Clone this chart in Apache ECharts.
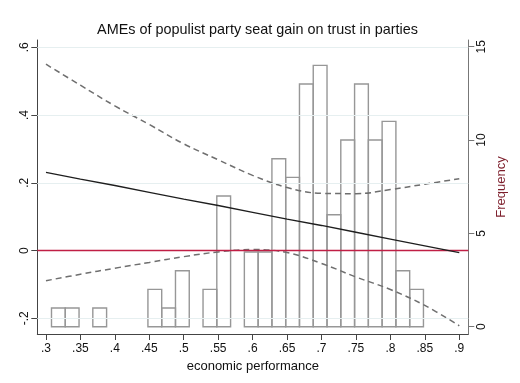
<!DOCTYPE html>
<html><head><meta charset="utf-8">
<script src="https://cdn.jsdelivr.net/npm/echarts@6/dist/echarts.min.js"></script>
<style>html,body{margin:0;padding:0;background:#fff}#c{width:520px;height:383px}</style>
</head><body><div id="c"></div>
<script>
// ---- data ----
const xPoints = [0.30, 0.35, 0.40, 0.45, 0.50, 0.55, 0.60, 0.65, 0.70, 0.75, 0.80, 0.85, 0.90];
const ame     = [0.231, 0.211, 0.192, 0.172, 0.152, 0.133, 0.113, 0.093, 0.074, 0.054, 0.034, 0.014, -0.006];
const ciUpper = [0.550, 0.488, 0.427, 0.372, 0.315, 0.268, 0.222, 0.186, 0.169, 0.168, 0.180, 0.196, 0.212];
const ciLower = [-0.089, -0.070, -0.052, -0.035, -0.018, -0.004, 0.003, -0.006, -0.038, -0.078, -0.115, -0.162, -0.222];
const binLow  = [0.308, 0.328, 0.368, 0.448, 0.468, 0.488, 0.528, 0.548, 0.588, 0.608, 0.628, 0.648, 0.668, 0.688, 0.708, 0.728, 0.748, 0.768, 0.788, 0.808, 0.828];
const binFreq = [1, 1, 1, 2, 1, 3, 2, 7, 4, 4, 9, 8, 13, 14, 6, 10, 13, 10, 11, 3, 2];
const binWidth = 0.02;
const xTicks = [0.3, 0.35, 0.4, 0.45, 0.5, 0.55, 0.6, 0.65, 0.7, 0.75, 0.8, 0.85, 0.9];
const yTicks = [-0.2, 0, 0.2, 0.4, 0.6];
const freqTicks = [0, 5, 10, 15];
const titleText = 'AMEs of populist party seat gain on trust in parties';
const xName = 'economic performance';
const freqName = 'Frequency';

const fmt = v => { let s = String(+(+v).toFixed(2)); return s.replace(/^(-?)0\./, '$1.'); };
const pair = (xs, ys) => xs.map((x, i) => [x, ys[i]]);
const FONT = 'Liberation Sans, Arial, sans-serif';

const chart = echarts.init(document.getElementById('c'), null, {renderer: 'canvas'});
chart.setOption({
  animation: false,
  backgroundColor: '#fff',
  title: {text: titleText, left: 252.5, textAlign: 'center', top: 18,
    textStyle: {fontFamily: FONT, fontSize: 14.4, fontWeight: 'normal', color: '#111'}},
  grid: {left: 37.3, right: 51.7, top: 40, bottom: 49, containLabel: false},
  xAxis: {type: 'value', min: 0.2874, max: 0.9131,
    name: xName, nameLocation: 'middle', nameGap: 22,
    nameTextStyle: {fontFamily: FONT, fontSize: 13, color: '#111'},
    axisLine: {show: true, onZero: false, lineStyle: {color: '#444', width: 1}},
    axisTick: {show: true, length: 6, customValues: xTicks, lineStyle: {color: '#444'}},
    axisLabel: {customValues: xTicks, formatter: fmt, margin: 9,
      fontFamily: FONT, fontSize: 12, color: '#111'},
    splitLine: {show: false}},
  yAxis: [
    {type: 'value', min: -0.2463, max: 0.6215, position: 'left',
      axisLine: {show: true, onZero: false, lineStyle: {color: '#444', width: 1}},
      axisTick: {show: true, length: 6, customValues: yTicks, lineStyle: {color: '#444'}},
      axisLabel: {customValues: yTicks, formatter: fmt, rotate: 90, margin: 7,
        fontFamily: FONT, fontSize: 12, color: '#111'},
      splitLine: {show: false}},
    {type: 'value', min: -0.391, max: 15.359, position: 'right',
      name: freqName, nameLocation: 'middle', nameRotate: 90, nameGap: 17,
      nameTextStyle: {fontFamily: FONT, fontSize: 13, color: '#7d1f2c'},
      axisLine: {show: true, onZero: false, lineStyle: {color: '#777', width: 1}},
      axisTick: {show: true, length: 6, customValues: freqTicks, lineStyle: {color: '#777'}},
      axisLabel: {customValues: freqTicks, rotate: 90, margin: 7,
        fontFamily: FONT, fontSize: 12, color: '#111'},
      splitLine: {show: false}}
  ],
  series: [
    {type: 'line', data: [], silent: true, yAxisIndex: 0,
      markLine: {silent: true, symbol: 'none', label: {show: false},
        lineStyle: {color: '#e6eff0', width: 1, type: 'solid'},
        data: yTicks.filter(v => v !== 0).map(v => ({yAxis: v}))}},
    {type: 'custom', xAxisIndex: 0, yAxisIndex: 1, silent: true,
      data: binLow.map((b, i) => [b, b + binWidth, binFreq[i]]),
      renderItem: (params, api) => {
        const p0 = api.coord([api.value(0), api.value(2)]);
        const p1 = api.coord([api.value(1), 0]);
        return {type: 'rect', shape: {x: p0[0], y: p0[1], width: p1[0] - p0[0], height: p1[1] - p0[1]},
          style: {fill: 'rgba(255,255,255,0)', stroke: '#979797', lineWidth: 1.4}};
      }, z: 2},
    {type: 'line', yAxisIndex: 0, data: [], silent: true, z: 3,
      markLine: {silent: true, symbol: 'none', label: {show: false},
        lineStyle: {color: '#c01f45', width: 1.3, type: 'solid'},
        data: [{yAxis: 0}]}},
    {type: 'line', yAxisIndex: 0, data: pair(xPoints, ciUpper), smooth: 0.4, showSymbol: false, z: 4,
      lineStyle: {color: '#6f6f6f', width: 1.5, type: [6, 4]}},
    {type: 'line', yAxisIndex: 0, data: pair(xPoints, ciLower), smooth: 0.4, showSymbol: false, z: 4,
      lineStyle: {color: '#6f6f6f', width: 1.5, type: [6, 4]}},
    {type: 'line', yAxisIndex: 0, data: pair(xPoints, ame), showSymbol: false, z: 5,
      lineStyle: {color: '#1e1e1e', width: 1.3}}
  ]
});
</script></body></html>
